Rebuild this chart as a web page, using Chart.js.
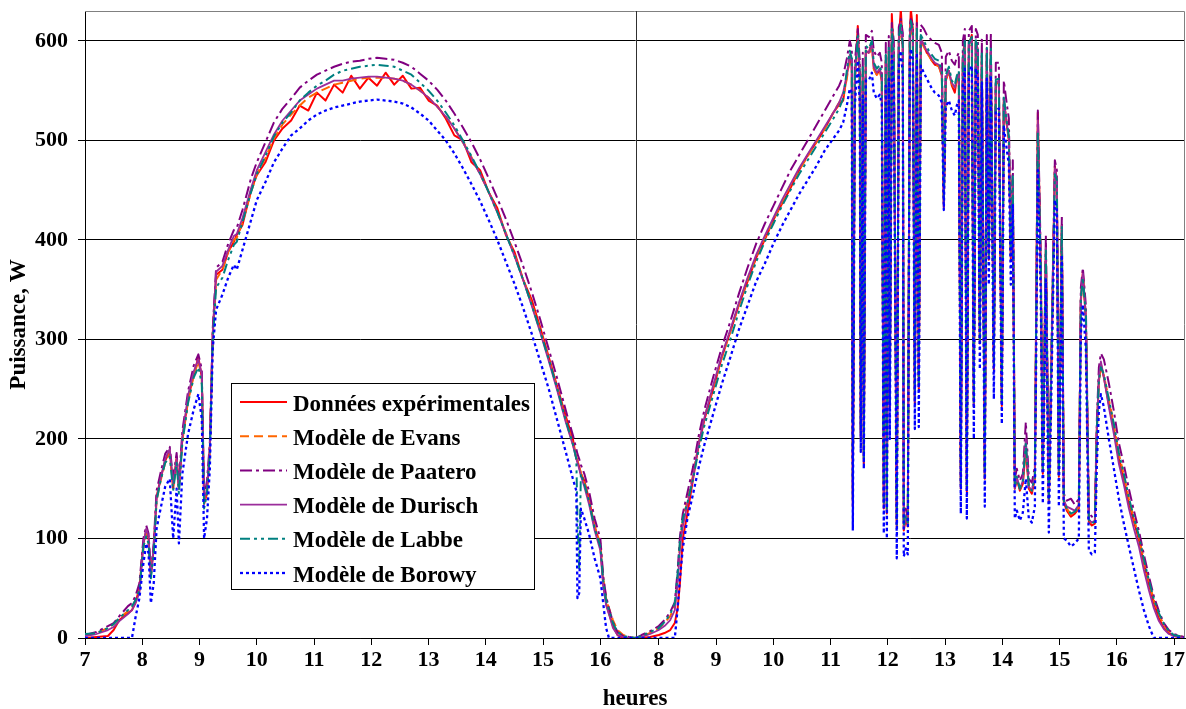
<!DOCTYPE html>
<html><head><meta charset="utf-8">
<script src="https://cdn.jsdelivr.net/npm/chart.js@4"></script>
<style>html,body{margin:0;padding:0;background:#fff}canvas{display:block}</style>
</head><body>
<canvas id="c" width="1186" height="709"></canvas>
<script>
// ---------- time grids (clock hours) ----------
const hoursDay1 = [7.0,7.2,7.4,7.5,7.6,7.75,7.82,7.88,7.95,8.02,8.07,8.11,8.15,8.2,8.25,8.32,8.4,8.48,8.54,8.6,8.64,8.7,8.8,8.9,8.98,9.04,9.08,9.13,9.18,9.23,9.29,9.4,9.5,9.6,9.65,9.75,9.9,10.0,10.15,10.3,10.45,10.6,10.75,10.9,11.05,11.2,11.35,11.5,11.65,11.8,11.95,12.1,12.25,12.4,12.55,12.7,12.85,13.0,13.15,13.3,13.45,13.6,13.75,13.9,14.05,14.2,14.35,14.5,14.65,14.8,14.95,15.1,15.25,15.4,15.52,15.58,15.6,15.63,15.66,15.72,15.8,15.9,16.0,16.05,16.1,16.15,16.22,16.3,16.4,16.5,16.62];
const hoursDay2 = [7.6,7.7,7.85,8.0,8.1,8.2,8.28,8.33,8.37,8.42,8.5,8.6,8.7,8.8,8.95,9.1,9.25,9.4,9.55,9.7,9.85,10.0,10.15,10.3,10.45,10.6,10.75,10.9,11.05,11.15,11.22,
11.284,11.336,11.371,11.389,11.424,11.476,11.511,11.528,11.563,11.581,
11.616,11.668,11.721,11.755,11.808,11.860,11.895,11.930,11.965,11.983,
12.017,12.035,12.070,12.105,12.157,12.192,12.227,12.262,12.279,12.314,
12.349,12.384,12.402,12.437,12.472,12.507,12.541,12.576,12.629,12.681,
12.716,12.769,12.821,12.891,12.943,12.978,13.013,13.066,13.118,13.170,
13.205,13.240,13.275,13.310,13.345,13.380,13.415,13.467,13.502,13.537,
13.572,13.607,13.642,13.694,13.729,13.764,13.799,13.852,13.886,13.939,
13.991,14.026,14.079,14.114,14.148,14.183,14.218,14.253,14.306,14.358,
14.410,14.463,14.515,14.568,14.620,14.672,14.707,14.760,14.812,14.865,
14.917,14.952,14.987,15.039,15.074,15.127,15.197,15.266,15.336,15.371,
15.406,15.459,15.511,15.563,15.616,15.651,15.686,15.721,15.773,15.860,
15.948,16.035,16.122,16.210,16.297,16.384,16.472,16.559,16.646,16.734,
16.821,16.908,16.996,17.170];
const DAY2_SHIFT = 9.02;      // day 2 placed after day 1 on the same axis
const SEPARATOR_HOUR = 16.62; // boundary between the two days

// ---------- axis ticks ----------
const xTickHoursDay1 = [7,8,9,10,11,12,13,14,15,16];
const xTickHoursDay2 = [8,9,10,11,12,13,14,15,16,17];
const xTickLabels = ['7','8','9','10','11','12','13','14','15','16','8','9','10','11','12','13','14','15','16','17'];
const yTickValues = [0,100,200,300,400,500,600];

// ---------- series : day 1 ----------
const expDay1 = [0,1,2,8,18,25,28,35,50,95,
108,100,62,90,142,160,178,188,150,182,
150,200,240,265,282,262,135,145,190,305,
365,370,388,398,405,415,450,465,478,500,
512,520,535,530,548,540,556,548,565,552,
563,555,568,556,565,552,553,540,535,522,
505,500,478,470,448,432,405,388,360,340,
312,282,252,222,200,180,178,172,165,158,
140,112,92,55,35,25,12,3,0,0,0];
const evansDay1 = [3,5,10,14,20,27,30,38,48,90,
105,95,70,88,138,158,176,186,152,178,
150,198,238,264,278,262,135,150,188,300,
360,370,388,400,402,418,448,466,482,502,
516,526,535,543,548,552,556,558,560,562,
563,563,563,562,560,556,550,543,534,524,
512,498,483,466,448,428,407,385,361,336,
309,280,250,218,195,182,178,172,166,156,
138,112,95,60,40,30,18,8,3,1,0];
const paateroDay1 = [3,6,12,15,22,32,35,42,55,100,
113,105,65,95,148,166,185,192,160,186,
155,208,248,274,285,270,140,158,196,310,
372,378,396,410,412,430,462,478,498,518,
532,542,553,560,566,570,574,577,579,580,
582,583,582,581,578,574,567,560,551,540,
527,513,498,481,462,442,421,398,374,348,
320,290,260,228,204,190,185,180,174,165,
148,120,100,62,42,30,16,6,2,1,0];
const durischDay1 = [2,4,8,11,17,24,28,35,45,95,
110,102,62,92,140,160,180,190,155,180,
150,202,244,268,280,265,138,150,192,305,
368,374,390,404,406,422,452,470,488,506,
520,530,540,546,552,556,560,560,562,563,
564,564,563,562,560,556,550,543,534,524,
512,498,482,466,448,428,406,384,360,334,
307,278,248,216,194,180,176,170,163,152,
135,108,88,52,33,24,10,3,1,0,0];
const labbeDay1 = [4,5,10,14,20,28,32,38,48,92,
102,95,60,85,138,158,176,182,148,176,
145,196,236,262,272,255,130,145,185,298,
352,362,380,395,398,418,448,466,484,504,
518,528,540,548,555,560,566,570,572,574,
575,576,575,574,570,566,558,550,540,528,
515,500,484,467,448,428,406,384,360,335,
308,280,250,218,195,180,120,70,165,155,
138,110,92,58,38,28,15,6,2,1,0];
const borowyDay1 = [0,0,0,0,0,0,0,20,40,75,
95,85,35,55,110,130,152,160,100,150,
95,165,205,230,245,220,100,120,170,290,
330,345,362,375,370,390,420,440,458,478,
492,505,512,520,526,530,533,535,537,539,
540,541,540,539,537,533,527,520,510,500,
487,472,456,439,420,400,378,356,332,306,
278,250,218,186,160,148,40,45,130,120,
105,80,60,35,10,0,0,0,0,0,0];

// ---------- series : day 2 ----------
const expDay2 = [0,0,1,3,5,8,15,30,55,100,125,160,195,220,250,282,308,335,358,382,400,420,436,452,470,485,498,512,528,536,540,
565,585,575,132,560,615,560,200,570,175,
590,588,598,572,566,572,560,130,580,125,
590,232,627,582,110,600,632,592,108,120,
112,602,632,612,235,626,250,602,596,588,
586,580,576,575,565,433,560,570,555,548,
562,567,150,582,602,147,596,606,232,600,
590,296,585,160,590,380,593,270,556,560,
233,540,515,500,381,460,150,160,148,155,
190,150,145,160,528,366,165,390,136,300,
474,460,162,415,136,128,122,125,130,340,
368,320,117,113,115,210,260,275,262,235,
210,180,160,136,117,99,75,54,35,20,
10,5,2,0];
const evansDay2 = [0,2,5,10,15,22,32,60,95,118,138,164,196,222,252,282,308,335,360,383,402,420,438,455,470,484,498,512,528,538,544,
562,582,575,140,560,600,562,205,570,180,
588,586,594,572,566,570,560,135,580,130,
588,236,610,582,115,598,615,590,112,122,
115,600,615,605,240,612,255,600,594,588,
585,580,577,574,566,436,562,568,557,552,
560,565,155,580,596,150,594,600,236,598,
590,300,585,163,588,384,590,274,558,558,
236,540,516,502,385,460,152,160,150,156,
192,152,147,162,515,368,168,390,138,302,
468,458,164,412,138,130,124,126,132,338,
364,322,119,115,117,208,258,272,264,240,
214,185,164,140,120,102,78,57,38,24,
13,7,3,1];
const paateroDay2 = [0,3,7,12,18,26,36,68,102,125,146,172,204,230,262,292,318,346,372,396,416,434,452,470,485,500,515,530,545,555,565,
582,600,592,145,578,612,580,212,588,186,
606,604,610,590,584,588,578,140,598,135,
605,245,618,600,120,614,622,608,118,130,
120,614,622,616,250,618,262,616,612,606,
604,600,598,596,588,450,584,590,580,576,
584,588,162,600,612,158,610,615,245,612,
606,310,602,170,606,396,608,284,578,578,
245,560,536,522,398,480,160,170,158,165,
217,160,156,172,530,380,176,405,146,314,
480,470,172,425,145,138,140,134,140,352,
372,334,126,122,124,220,272,286,280,256,
228,196,174,150,128,108,84,62,42,27,
15,8,4,1];
const durischDay2 = [0,1,4,8,12,18,28,55,90,112,134,162,196,222,254,284,310,337,362,385,404,422,440,456,472,486,500,514,528,538,548,
566,586,578,138,562,604,564,202,572,178,
590,588,598,574,568,572,562,134,582,128,
590,234,612,584,112,600,618,592,110,122,
114,602,618,608,238,614,252,602,596,590,
587,582,578,576,567,436,563,570,558,553,
562,567,152,582,598,149,596,602,234,600,
591,298,586,162,590,382,592,272,558,560,
235,541,516,502,383,462,150,162,150,158,
200,152,148,165,520,370,167,392,138,304,
472,462,165,414,138,132,130,128,134,342,
366,324,119,116,118,212,262,278,262,232,
205,175,154,130,110,92,68,48,30,17,
9,4,2,0];
const labbeDay2 = [0,2,6,10,16,24,35,65,98,120,136,160,190,214,244,274,300,328,354,378,398,416,434,450,466,480,494,508,522,532,542,
570,590,582,140,566,605,568,206,576,180,
595,592,600,578,572,576,566,136,586,130,
594,236,612,588,114,604,618,596,112,124,
116,606,620,610,240,614,254,606,600,594,
590,586,582,580,570,438,566,574,560,556,
565,570,154,585,600,150,598,604,236,602,
594,300,589,163,593,385,595,275,561,562,
236,544,518,504,385,464,152,162,150,158,
195,152,148,162,508,370,168,392,138,304,
466,460,164,414,138,130,125,127,132,340,
362,324,119,115,117,210,258,272,265,240,
215,186,165,141,121,103,79,58,39,25,
14,7,3,1];
const borowyDay2 = [0,0,0,0,0,0,0,30,60,90,120,145,172,195,225,255,282,310,334,358,376,396,414,430,446,460,474,490,502,510,518,
535,552,548,108,535,580,536,187,545,170,
560,560,568,548,542,546,536,105,555,100,
562,200,585,558,80,575,590,566,82,90,
84,576,592,582,210,588,212,575,568,562,
558,552,548,545,538,430,534,540,530,525,
535,540,125,555,572,120,568,575,200,572,
564,270,558,132,562,355,565,240,530,532,
215,515,490,476,355,435,120,128,118,126,
160,120,116,132,470,340,135,360,106,275,
440,430,132,385,100,98,92,95,100,305,
335,290,88,84,86,175,228,245,232,200,
170,140,115,92,70,48,28,12,0,0,
0,0,0,0];

// ---------- build ----------
const FONT = "'Liberation Serif', 'Times New Roman', serif";
function points(d1, d2) {
  const out = [];
  hoursDay1.forEach((h, i) => { if (d1[i] != null) out.push({x: h, y: d1[i]}); });
  hoursDay2.forEach((h, i) => { if (d2[i] != null) out.push({x: h + DAY2_SHIFT, y: d2[i]}); });
  return out;
}
const xTickPositions = xTickHoursDay1.concat(xTickHoursDay2.map(h => h + DAY2_SHIFT));

const datasets = [
  {label: 'Données expérimentales', data: points(expDay1, expDay2), borderColor: '#FF0000', borderDash: [], borderWidth: 2, order: 6},
  {label: 'Modèle de Evans', data: points(evansDay1, evansDay2), borderColor: '#FF6600', borderDash: [9,5], borderWidth: 2, order: 5},
  {label: 'Modèle de Paatero', data: points(paateroDay1, paateroDay2), borderColor: '#800080', borderDash: [12,4,3,4], borderWidth: 2, order: 4},
  {label: 'Modèle de Durisch', data: points(durischDay1, durischDay2), borderColor: '#9B2D9B', borderDash: [], borderWidth: 1.8, order: 3},
  {label: 'Modèle de Labbe', data: points(labbeDay1, labbeDay2), borderColor: '#008080', borderDash: [10,4,3,4,3,4], borderWidth: 2, order: 2},
  {label: 'Modèle de Borowy', data: points(borowyDay1, borowyDay2), borderColor: '#0000FF', borderDash: [3,3], borderWidth: 2.3, order: 1}
];
datasets.forEach(d => { d.pointRadius = 0; d.fill = false; d.tension = 0; d.borderJoinStyle = 'round'; });

const framePlugin = {
  id: 'frame',
  beforeDatasetsDraw(chart) {
    const {ctx, chartArea: a, scales} = chart;
    ctx.save();
    ctx.strokeStyle = '#808080'; ctx.lineWidth = 1;
    ctx.beginPath();
    ctx.moveTo(a.left, a.top + 0.5); ctx.lineTo(a.right - 0.5, a.top + 0.5); ctx.lineTo(a.right - 0.5, a.bottom);
    ctx.stroke();
    const sx = Math.round(scales.x.getPixelForValue(SEPARATOR_HOUR)) + 0.5;
    ctx.strokeStyle = '#303030';
    ctx.beginPath(); ctx.moveTo(sx, a.top); ctx.lineTo(sx, a.bottom); ctx.stroke();
    ctx.restore();
  }
};
const legendPlugin = {
  id: 'boxLegend',
  afterDatasetsDraw(chart) {
    const ctx = chart.ctx;
    const bx = 231.5, by = 383.5, bw = 303, bh = 206;
    ctx.save();
    ctx.fillStyle = '#fff'; ctx.fillRect(bx, by, bw, bh);
    ctx.strokeStyle = '#000'; ctx.lineWidth = 1; ctx.strokeRect(bx, by, bw, bh);
    chart.data.datasets.forEach((d, i) => {
      const y = 402 + i * 34.2;
      ctx.strokeStyle = d.borderColor; ctx.lineWidth = d.borderWidth;
      ctx.setLineDash(d.borderDash || []);
      ctx.beginPath(); ctx.moveTo(240, y); ctx.lineTo(287, y); ctx.stroke();
      ctx.setLineDash([]);
      ctx.fillStyle = '#000'; ctx.font = 'bold 23px ' + FONT;
      ctx.textBaseline = 'alphabetic'; ctx.textAlign = 'left';
      ctx.fillText(d.label, 293, y + 8.5);
    });
    ctx.restore();
  }
};

const tickFont = {family: FONT, size: 22, weight: 'bold'};
const titleFont = {family: FONT, size: 23, weight: 'bold', lineHeight: 0.85};
new Chart(document.getElementById('c'), {
  type: 'line',
  data: {datasets},
  options: {
    responsive: false, animation: false,
    layout: {padding: {top: 11, right: 1, left: 0, bottom: 0}},
    plugins: {legend: {display: false}, tooltip: {enabled: false}},
    scales: {
      x: {
        type: 'linear', min: 7, max: 26.21,
        afterBuildTicks: s => { s.ticks = xTickPositions.map(v => ({value: v})); },
        afterFit: s => { s.height = 71; s.paddingLeft = 0; s.paddingRight = 0; },
        ticks: {autoSkip: false, maxRotation: 0, minRotation: 0, padding: 2, color: '#000', font: tickFont,
                callback: (v, i) => xTickLabels[i]},
        grid: {display: true, drawOnChartArea: false, drawTicks: true, tickLength: 7, color: '#000', tickColor: '#000'},
        border: {display: true, color: '#000', width: 1},
        title: {display: true, text: 'heures', color: '#000', font: titleFont, padding: {top: 0, bottom: 0}}
      },
      y: {
        min: 0, max: 630,
        afterBuildTicks: s => { s.ticks = yTickValues.map(v => ({value: v})); },
        afterFit: s => { s.width = 85; s.paddingTop = 0; s.paddingBottom = 0; },
        ticks: {padding: 10, color: '#000', font: tickFont},
        grid: {color: '#000', lineWidth: 1, drawTicks: true, tickLength: 7, tickColor: '#000'},
        border: {display: true, color: '#000', width: 1},
        title: {display: true, text: 'Puissance, W', color: '#000', font: {family: FONT, size: 23, weight: 'bold'}, padding: {top: 5, bottom: 0}}
      }
    }
  },
  plugins: [framePlugin, legendPlugin]
});
</script>
</body></html>
